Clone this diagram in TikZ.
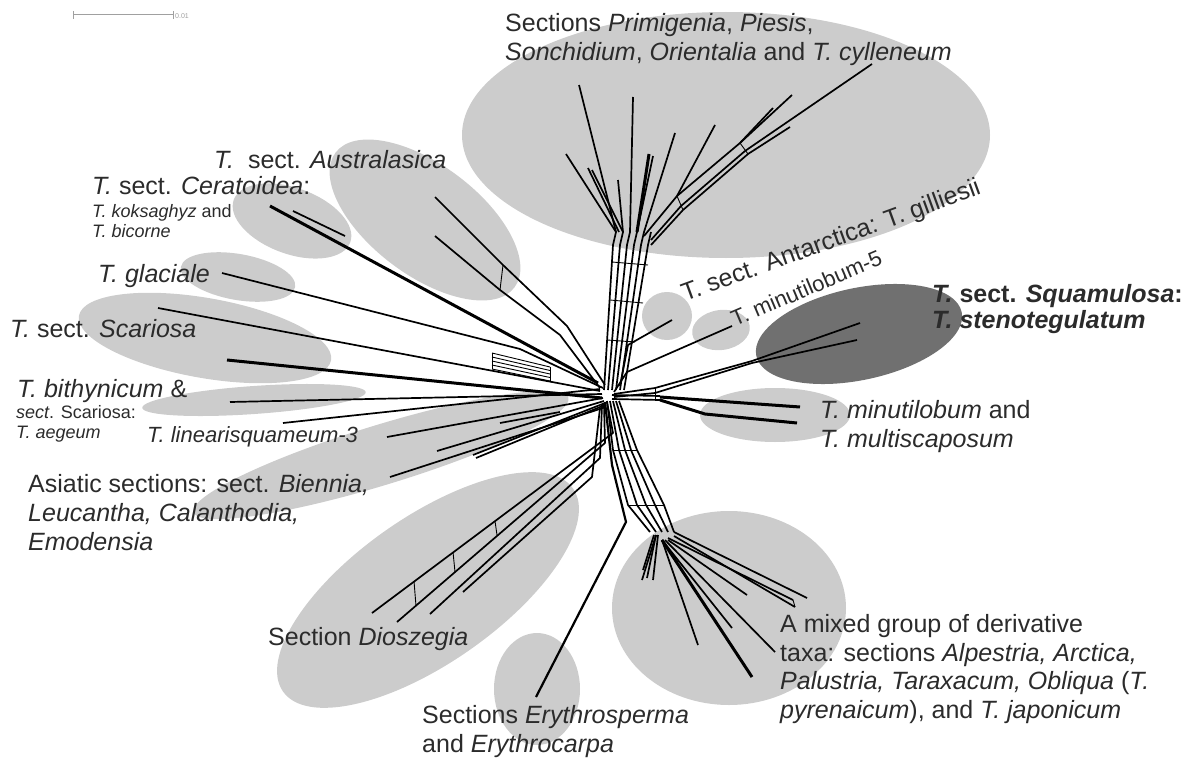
\documentclass[tikz,border=0pt]{standalone}
\usepackage{fontspec}
\setmainfont{Liberation Sans}

\definecolor{grplight}{HTML}{CCCCCC}
\definecolor{grpdark}{HTML}{707070}
\definecolor{txtgray}{HTML}{2B2B2B}
\definecolor{bargray}{HTML}{A0A0A0}

\begin{document}
\begin{tikzpicture}[x=1pt,y=-1pt,
  grp/.style={fill=grplight},
  grpd/.style={fill=grpdark},
  br/.style={line width=1.7pt,line join=round},
  brk/.style={line width=3pt,line join=round},
  rung/.style={line width=0.9pt},
  lbl/.style={anchor=base west,inner sep=0pt,text=txtgray,align=left,font=\fontsize{25}{29}\selectfont},
  lbls/.style={lbl,font=\fontsize{18}{20}\selectfont}]
\useasboundingbox (0,0) rectangle (1187,760);

% groups
\fill[grp] (726,135) ellipse [x radius=264,y radius=123];
\fill[grp,rotate around={-37:(425,220)}] (425,220) ellipse [x radius=112,y radius=55];
\fill[grp,rotate around={-20:(292,221)}] (292,221) ellipse [x radius=62,y radius=33];
\fill[grp,rotate around={-10:(238,277)}] (238,277) ellipse [x radius=58,y radius=23];
\fill[grp,rotate around={-10:(205,338)}] (205,338) ellipse [x radius=128,y radius=40];
\fill[grp,rotate around={4:(254,400)}] (254,400) ellipse [x radius=112,y radius=14];
\fill[grp,rotate around={17:(381,455)}] (381,455) ellipse [x radius=196,y radius=30];
\fill[grp,rotate around={35:(428,590)}] (428,590) ellipse [x radius=177,y radius=73];
\fill[grp] (537,689) ellipse [x radius=43,y radius=56];
\fill[grp] (729,608) ellipse [x radius=117,y radius=97];
\fill[grp] (775,415) ellipse [x radius=75,y radius=27];
\fill[grp] (667,316) ellipse [x radius=25,y radius=24];
\fill[grp,rotate around={8:(721,330)}] (721,330) ellipse [x radius=29,y radius=20];
\fill[grpd,rotate around={12:(859,334)}] (859,334) ellipse [x radius=105,y radius=46];

% scale bar
\coordinate (sb0) at (73,15);
\coordinate (sb1) at (173,15);
\draw[bargray,line width=1pt] (sb0) -- (sb1);
\draw[bargray,line width=1pt] (73,11) -- (73,19) (173,11) -- (173,19);
\node[anchor=base west,inner sep=0pt,text=bargray,font=\fontsize{7}{8}\selectfont] (sbval) at (175,19) {0.01};

% left branches
\draw[brk] (270,206) -- (598,383);
\draw[br] (293,211) -- (345,236);
\draw[br] (222,273) -- (520,349) -- (603,388);
\draw[br] (158,308) -- (600,391);
\draw[brk] (227,360) -- (602,398);
\draw[br] (230,402) -- (602,394);
\draw[br] (283,423) -- (600,389);
\foreach \k in {0,...,4}
  \draw[rung] (492,353+4*\k) -- (550,367+3.5*\k);
\draw[rung] (492,353) -- (492,369) (550,367) -- (550,381);
% Australasica
\draw[br] (435,197) -- (503,265) -- (567,326) -- (605,385);
\draw[br] (435,236) -- (500,290) -- (560,335) -- (600,388);
\draw[rung] (503,265) -- (500,290);
% Asiatic
\draw[br] (387,437) -- (603,398);
\draw[br] (437,451) -- (604,401);
\draw[br] (473,455) -- (605,403);
\draw[br] (476,458) -- (605,405);
\draw[br] (390,477) -- (606,407);
\draw[br] (500,423) -- (560,412);

% right branches
\draw[br] (672,320) -- (628,345) -- (620,386);
\draw[br] (732,326) -- (627,372) -- (614,392);
\draw[br] (860,323) -- (752,361);
\draw[br] (857,340) -- (752,363);
\draw[br] (752,361) -- (655,388) -- (614,394);
\draw[br] (752,363) -- (655,393) -- (614,397);
\draw[brk] (800,407) -- (660,397);
\draw[brk] (797,423) -- (705,414) -- (660,400);
\draw[br] (660,396) -- (612,395);
\draw[br] (660,400) -- (612,399);
\draw[rung] (655,388) -- (655,400);

% top stem and fan
\foreach \i in {0,...,5}
  \draw[br] (604+4*\i,390) -- (613+7*\i,245) -- (616+7*\i,232);
\draw[rung] (607,340) -- (635,342) (610,300) -- (643,303) (612,262) -- (648,265);
\draw[br] (616,232) -- (579,85);
\draw[br] (616,232) -- (566,154);
\draw[br] (619,232) -- (588,168);
\draw[br] (623,232) -- (592,170);
\draw[br] (623,232) -- (618,180);
\draw[br] (630,232) -- (633,97);
\draw[brk] (637,232) -- (649,154);
\draw[br] (637,232) -- (653,156);
\draw[br] (644,232) -- (675,133);
\draw[br] (644,236) -- (677,196) -- (740,143) -- (792,95);
\draw[br] (651,240) -- (681,206) -- (745,151) -- (872,64);
\draw[br] (651,245) -- (683,210) -- (748,154) -- (790,127);
\draw[br] (677,196) -- (715,125);
\draw[br] (740,143) -- (773,108);
\draw[rung] (677,196) -- (683,210) (740,143) -- (748,154);

% bottom bundle and mixed group
\foreach \i in {0,...,4}
  \draw[br] (607+3*\i,401) -- (613+6*\i,450) -- (628+9*\i,505) -- (650+6*\i,532);
\draw[rung] (613,450) -- (637,450) (628,505) -- (664,505);
\draw[br] (674,532) -- (807,598);
\draw[br] (674,536) -- (795,607);
\draw[br] (668,538) -- (793,600);
\draw[rung] (793,600) -- (795,607);
\draw[br] (668,540) -- (747,595);
\draw[br] (662,540) -- (698,645);
\draw[brk] (662,540) -- (752,677);
\draw[br] (665,540) -- (775,652);
\draw[br] (662,540) -- (732,628);
\draw[br] (656,535) -- (642,580);
\draw[br] (656,535) -- (647,578);
\draw[br] (658,535) -- (653,580);
\draw[br] (654,535) -- (643,570);

% Erythrosperma and Dioszegia
\draw[brk,line width=2.2pt] (536,697) -- (626,522) -- (612,465) -- (605,402);
\draw[br] (372,613) -- (613,433) -- (607,402);
\draw[br] (397,622) -- (605,443) -- (604,404);
\draw[br] (430,614) -- (600,458) -- (602,405);
\draw[br] (463,592) -- (592,477) -- (600,408);
\draw[rung] (495,521) -- (497,535) (453,552) -- (455,572) (414,581) -- (416,606);

% labels (base of the last line)
\node[lbl] (primigenia) at (505,61) {Sections \textit{Primigenia}, \textit{Piesis},\\\textit{Sonchidium}, \textit{Orientalia} and \textit{T. cylleneum}};
\node[lbl] (australasica) at (214,168) {\textit{T.}\ \ sect. \textit{Australasica}};
\node[lbl] (ceratoidea) at (92,194) {\textit{T.} sect. \textit{Ceratoidea}:};
\node[lbls] (koksaghyz) at (92,237) {\textit{T. koksaghyz} and\\\textit{T. bicorne}};
\node[lbl] (glaciale) at (98,282) {\textit{T. glaciale}};
\node[lbl] (scariosa) at (10,337) {\textit{T.} sect. \textit{Scariosa}};
\node[lbl] (bithynicum) at (17,397) {\textit{T. bithynicum} \&};
\node[lbls] (aegeum) at (16,438) {\textit{sect}. Scariosa:\\\textit{T. aegeum}};
\node[lbl,font=\fontsize{22}{26}\selectfont] (linearisq) at (147,442) {\textit{T. linearisquameum-3}};
\node[lbl] (asiatic) at (28,550) {Asiatic sections: sect. \textit{Biennia,}\\\textit{Leucantha, Calanthodia,}\\\textit{Emodensia}};
\node[lbl] (dioszegia) at (268,645) {Section \textit{Dioszegia}};
\node[lbl] (erythro) at (422,752) {Sections \textit{Erythrosperma}\\and \textit{Erythrocarpa}};
\node[lbl,font=\fontsize{25}{28.5}\selectfont] (mixed) at (780,718) {A mixed group of derivative\\taxa: sections \textit{Alpestria, Arctica,}\\\textit{Palustria, Taraxacum, Obliqua} (\textit{T.}\\\textit{pyrenaicum}), and \textit{T. japonicum}};
\node[lbl] (multiscap) at (820,447) {\textit{T. minutilobum} and\\\textit{T. multiscaposum}};
\node[lbl,font=\fontsize{25}{25.5}\selectfont\bfseries] (squamulosa) at (932,328) {\textit{T.} sect. \textit{Squamulosa}:\\\textit{T. stenotegulatum}};
\node[lbl,rotate=20] (antarctica) at (685,302) {T. sect. Antarctica: T. gilliesii};
\node[lbl,rotate=23,font=\fontsize{22}{26}\selectfont] (minut5) at (735,327) {T. minutilobum-5};
\end{tikzpicture}
\end{document}
